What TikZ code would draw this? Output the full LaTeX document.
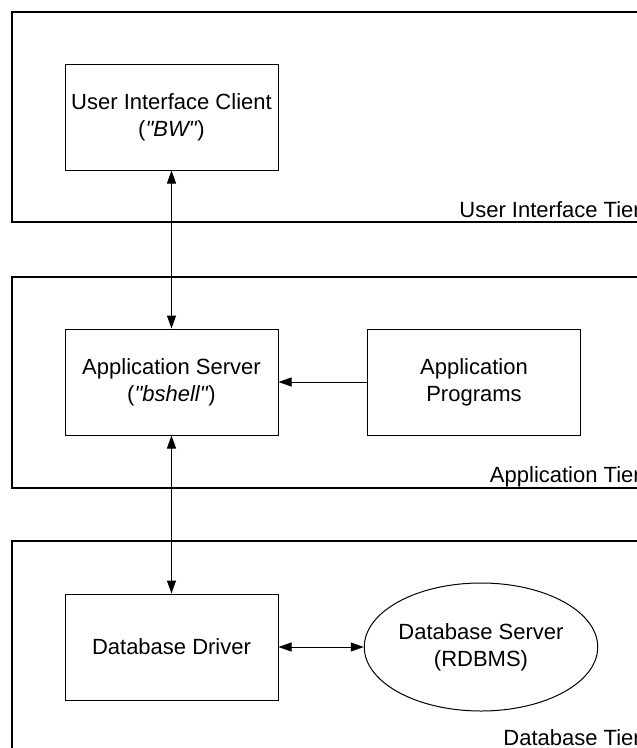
\documentclass[tikz,border=0pt]{standalone}
\usepackage{fontspec}
\setmainfont{Liberation Sans}[Ligatures=TeXOff]
\usetikzlibrary{arrows.meta,shapes.geometric}
\begin{document}
\begin{tikzpicture}[x=1pt,y=-1pt,
  every node/.style={font=\fontsize{22}{27}\selectfont},
  tier/.style={draw=black,line width=2pt},
  compbox/.style={draw=black,line width=1pt,minimum width=213pt,minimum height=106pt,inner sep=0pt,align=center},
  dbellipse/.style={draw=black,line width=1pt,ellipse,minimum width=230pt,minimum height=128pt,inner sep=0pt,align=center},
  tierlabel/.style={anchor=base east,inner sep=0pt},
  link/.style={draw=black,line width=1pt,arrows={-Triangle[length=13pt,width=9pt]}},
  biglink/.style={draw=black,line width=1pt,arrows={Triangle[length=13pt,width=9pt]-Triangle[length=13pt,width=9pt]}}
]
\useasboundingbox (0,0) rectangle (637,748);
\clip (0,0) rectangle (637,748);
\fill[white] (0,0) rectangle (637,748);

% tiers
\draw[tier] (12,12) rectangle (720,222);
\draw[tier] (12,277) rectangle (720,488);
\draw[tier] (12,541) rectangle (720,800);
\node[tierlabel] (uitier) at (641,217) {User Interface Tier};
\node[tierlabel] (apptier) at (641,482) {Application Tier};
\node[tierlabel] (dbtier) at (641,745) {Database Tier};

% components
\node[compbox] (ui) at (171.5,117) {User Interface Client\\(\textit{"BW"})};
\node[compbox] (as) at (171.5,382) {Application Server\\(\textit{"bshell"})};
\node[compbox] (ap) at (474,382) {Application\\Programs};
\node[compbox] (dd) at (171.5,647) {Database Driver};
\node[dbellipse] (ds) at (481,647) {Database Server\\(RDBMS)};

% connectors
\draw[biglink] (ui.south) -- (as.north);
\draw[biglink] (as.south) -- (dd.north);
\draw[link] (ap.west) -- (as.east);
\draw[biglink] (dd.east) -- (ds.west);
\end{tikzpicture}
\end{document}
